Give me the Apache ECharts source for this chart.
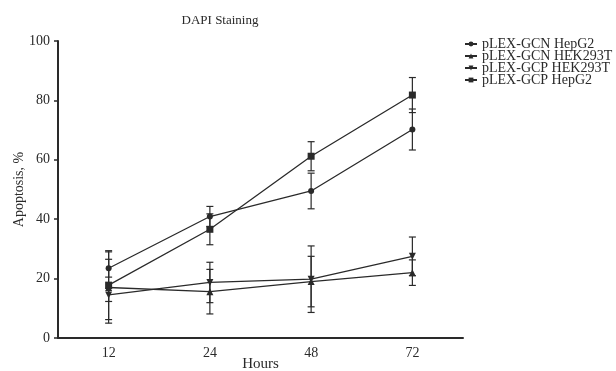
<!DOCTYPE html>
<html>
<head>
<meta charset="utf-8">
<script src="https://cdn.jsdelivr.net/npm/echarts@6/dist/echarts.min.js"></script>
<style>
  html, body { margin: 0; padding: 0; background: #fff; }
  #chart { width: 616px; height: 371px; }
</style>
</head>
<body>
<div id="chart"></div>
<script>
// x categories (hours)
const hours = ['12', '24', '48', '72']
const yTicks = [0, 20, 40, 60, 80, 100]

// mean apoptosis %
const gcnHepG2 = [23.5, 40.9, 49.5, 70.2]
const gcnHek = [17.0, 15.6, 19.0, 22.0]
const gcpHek = [14.5, 18.7, 19.8, 27.5]
const gcpHepG2 = [17.8, 36.6, 61.2, 81.8]

// error bar half widths
const errGcnHepG2 = [3.0, 3.4, 6.0, 6.9]
const errGcnHek = [12.0, 7.5, 8.5, 4.3]
const errGcpHek = [2.2, 6.8, 11.2, 6.5]
const errGcpHepG2 = [11.6, 5.2, 4.9, 5.9]

const names = ['pLEX-GCN HepG2', 'pLEX-GCN HEK293T', 'pLEX-GCP HEK293T', 'pLEX-GCP HepG2']
const means = [gcnHepG2, gcnHek, gcpHek, gcpHepG2]
const errs = [errGcnHepG2, errGcnHek, errGcpHek, errGcpHepG2]
const symbols = [
  'circle',
  'triangle',
  'path://M0,0 L10,0 L5,10 Z',
  'rect',
]

const font = 'Liberation Serif'
const ink = '#2a2a2a'

let chart = echarts.init(document.getElementById('chart'))

let series = []
means.forEach((m, i) => {
  series.push({
    name: names[i],
    type: 'line',
    data: m,
    symbol: symbols[i],
    symbolSize: i == 0 ? 6 : 7,
    showAllSymbol: true,
    lineStyle: { color: ink, width: 1.3 },
    itemStyle: { color: ink },
    z: 3,
    animation: false,
  })
  // error bars
  series.push({
    name: names[i],
    type: 'custom',
    data: m.map((v, k) => [k, v - errs[i][k], v + errs[i][k]]),
    renderItem: function (params, api) {
      let lo = api.coord([api.value(0), api.value(1)])
      let hi = api.coord([api.value(0), api.value(2)])
      let w = 3.5
      let st = { stroke: ink, lineWidth: 1.2 }
      return {
        type: 'group',
        children: [
          { type: 'line', shape: { x1: lo[0], y1: lo[1], x2: hi[0], y2: hi[1] }, style: st },
          { type: 'line', shape: { x1: lo[0] - w, y1: lo[1], x2: lo[0] + w, y2: lo[1] }, style: st },
          { type: 'line', shape: { x1: hi[0] - w, y1: hi[1], x2: hi[0] + w, y2: hi[1] }, style: st },
        ],
      }
    },
    z: 2,
    animation: false,
  })
})

let option = {
  backgroundColor: '#fff',
  textStyle: { fontFamily: font, color: ink },
  title: {
    text: 'DAPI Staining',
    left: 215,
    textAlign: 'center',
    top: 9,
    textStyle: { fontFamily: font, fontSize: 13, fontWeight: 'normal', color: ink },
  },
  legend: {
    data: names,
    orient: 'vertical',
    left: 459,
    top: 32,
    itemGap: -2,
    itemWidth: 12,
    itemHeight: 6,
    textStyle: { fontFamily: font, fontSize: 14, color: ink, lineHeight: 12 },
  },
  grid: { left: 58, right: 153, top: 41, bottom: 33, outerBoundsMode: 'none' },
  xAxis: {
    type: 'category',
    data: hours,
    boundaryGap: true,
    name: 'Hours',
    nameLocation: 'middle',
    nameGap: 19,
    nameMoveOverlap: false,
    nameTextStyle: { fontFamily: font, fontSize: 15, color: ink },
    axisLine: { lineStyle: { color: ink, width: 2 } },
    axisTick: { alignWithLabel: true, length: 4, lineStyle: { color: ink, width: 1.5 } },
    axisLabel: { fontFamily: font, fontSize: 14, color: ink, margin: 8 },
    splitLine: { show: false },
  },
  yAxis: {
    type: 'value',
    min: yTicks[0],
    max: yTicks[yTicks.length - 1],
    interval: 20,
    name: 'Apoptosis, %',
    nameLocation: 'middle',
    nameGap: 32,
    nameMoveOverlap: false,
    nameTextStyle: { fontFamily: font, fontSize: 14, color: ink },
    axisLine: { show: true, lineStyle: { color: ink, width: 2 } },
    axisTick: { show: true, length: 4, lineStyle: { color: ink, width: 1.5 } },
    axisLabel: { fontFamily: font, fontSize: 14, color: ink, margin: 8 },
    splitLine: { show: false },
  },
  series: series,
}

chart.setOption(option)
</script>
</body>
</html>
